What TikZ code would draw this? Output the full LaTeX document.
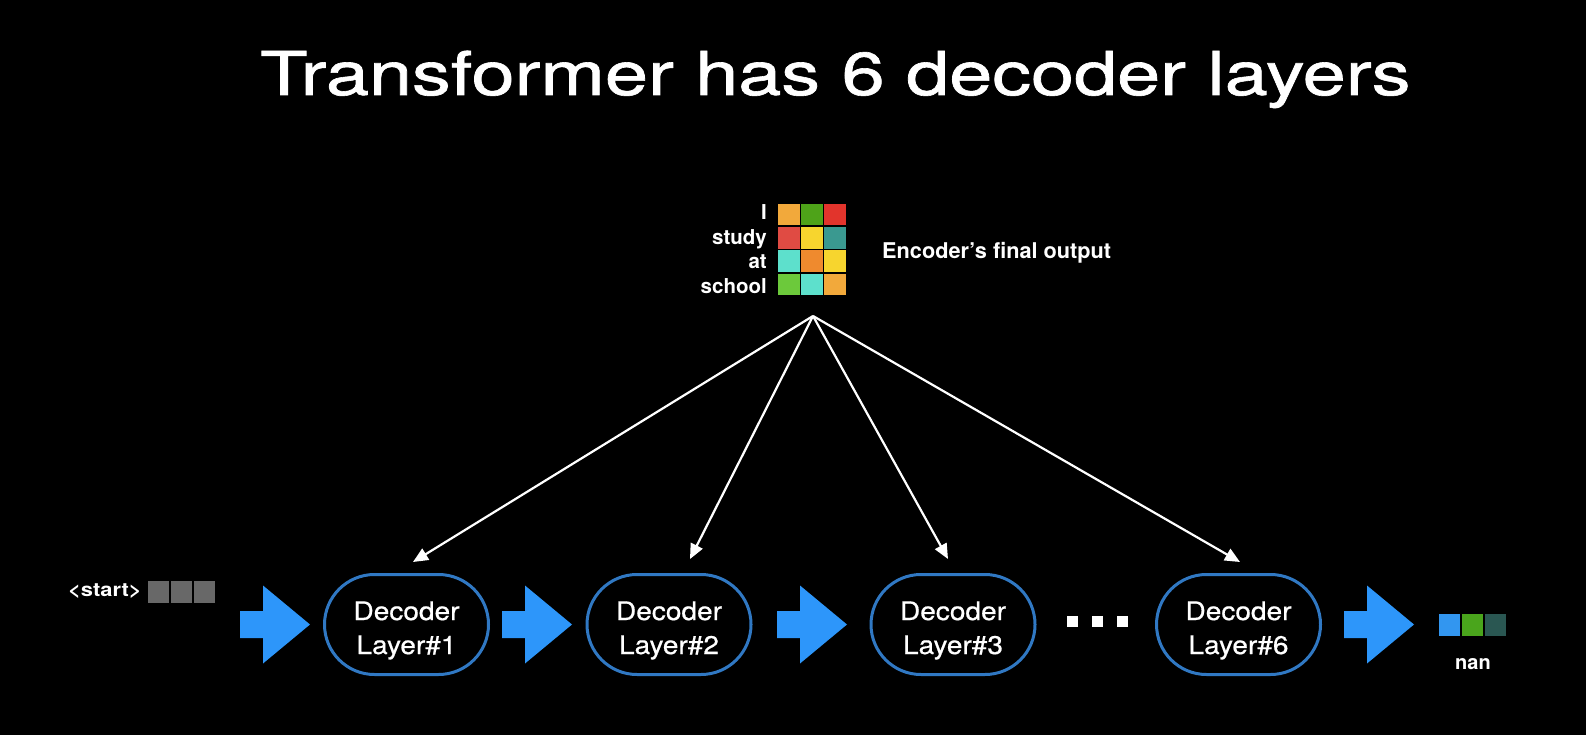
\documentclass[tikz,border=0pt]{standalone}
\usepackage{fontspec}
\setmainfont{TeX Gyre Heros}
\newfontfamily\titlefont{TeX Gyre Heros}[FakeBold=1.0]
\newfontfamily\boxfont{TeX Gyre Heros}[FakeBold=0.6]
\usetikzlibrary{arrows.meta}

\definecolor{arrblue}{RGB}{45,150,250}
\definecolor{decblue}{RGB}{48,120,195}
\definecolor{tokgray}{RGB}{104,104,104}
\definecolor{cOrange}{RGB}{242,169,59}
\definecolor{cGreen}{RGB}{78,163,25}
\definecolor{cRed}{RGB}{226,52,44}
\definecolor{cRed2}{RGB}{224,75,67}
\definecolor{cYellow}{RGB}{247,213,46}
\definecolor{cTeal}{RGB}{58,153,144}
\definecolor{cTurq}{RGB}{93,224,204}
\definecolor{cOrange2}{RGB}{239,138,46}
\definecolor{cLime}{RGB}{108,201,59}
\definecolor{outBlue}{RGB}{50,150,240}
\definecolor{outGreen}{RGB}{74,165,28}
\definecolor{outDark}{RGB}{42,87,82}

% decoder layer box: two centred lines, baseline on the last line
\newcommand\declabel[1]{\raisebox{0pt}[64pt][5pt]{\scalebox{1.1}[1]{\boxfont\fontsize{25.5}{34}\selectfont
  \begin{tabular}[b]{@{}c@{}}Decoder\\Layer\##1\end{tabular}}}}

\tikzset{
  decoder/.style={draw=decblue, line width=3pt, rounded corners=50pt,
    minimum width=164pt, minimum height=100pt, inner sep=0pt, text=white},
  wtxt/.style={text=white, inner sep=0pt},
  feed/.style={draw=white, line width=2.2pt,
    -{Triangle[length=15pt,width=13pt]}},
  blockarrow/.pic={\fill[arrblue] (0,-13.5) -- (23,-13.5) -- (23,-39) -- (70,0)
    -- (23,39) -- (23,13.5) -- (0,13.5) -- cycle;}
}

\begin{document}
\begin{tikzpicture}[x=1pt,y=-1pt]
\fill[black] (0,0) rectangle (1586,735);
\useasboundingbox (0,0) rectangle (1586,735);

% title
\node[wtxt, anchor=base west] (title) at (260,95)
  {\scalebox{1.28}[1]{\titlefont\fontsize{60.5}{72}\selectfont Transformer has 6 decoder layers}};

% encoder output matrix
\foreach \c [count=\i from 0] in {cOrange,cGreen,cRed}
  \fill[\c] (777.75+23.33*\i,203.75) rectangle ++(21.83,21.75);
\foreach \c [count=\i from 0] in {cRed2,cYellow,cTeal}
  \fill[\c] (777.75+23.33*\i,227) rectangle ++(21.83,21.75);
\foreach \c [count=\i from 0] in {cTurq,cOrange2,cYellow}
  \fill[\c] (777.75+23.33*\i,250.25) rectangle ++(21.83,21.75);
\foreach \c [count=\i from 0] in {cLime,cTurq,cOrange}
  \fill[\c] (777.75+23.33*\i,273.5) rectangle ++(21.83,21.75);

\node[wtxt, anchor=base east, font=\bfseries\fontsize{20.5}{24}\selectfont] (wI) at (767,220) {I};
\node[wtxt, anchor=base east, font=\bfseries\fontsize{20.5}{24}\selectfont] (wstudy) at (767,244) {study};
\node[wtxt, anchor=base east, font=\bfseries\fontsize{20.5}{24}\selectfont] (wat) at (767,268) {at};
\node[wtxt, anchor=base east, font=\bfseries\fontsize{20.5}{24}\selectfont] (wschool) at (767,293) {school};
\node[wtxt, anchor=base west, font=\bfseries\fontsize{21.7}{26}\selectfont] (enclabel) at (882,258.3) {Encoder's final output};

% decoder layers
\node[decoder] (d1) at (406.5,624.5) {\declabel{1}};
\node[decoder] (d2) at (669,624.5) {\declabel{2}};
\node[decoder] (d3) at (953,624.5) {\declabel{3}};
\node[decoder] (d6) at (1238.5,624.5) {\declabel{6}};

% encoder output fed into every layer
\coordinate (src) at (813,316);
\coordinate (t1) at (413,562);
\coordinate (t2) at (690,559);
\coordinate (t3) at (948,559);
\coordinate (t4) at (1240,562);
\foreach \t in {t1,t2,t3,t4} \draw[feed] (src) -- (\t);

% data flow arrows
\pic (a1) at (240,624.5) {blockarrow};
\pic (a2) at (502,624.5) {blockarrow};
\pic (a3) at (777,624.5) {blockarrow};
\pic (a4) at (1344,624.5) {blockarrow};

% ellipsis between layer 3 and layer 6
\foreach \x in {1067,1092,1117}
  \fill[white] (\x,616) rectangle ++(10.5,11);

% start token
\node[wtxt, anchor=base west] (start) at (68,596)
  {\scalebox{1.15}[1]{\bfseries\fontsize{19}{22}\selectfont <start>}};
\foreach \x in {147,170,193}
  \fill[tokgray] (\x+0.75,581) rectangle ++(21.5,22);

% output token
\fill[outBlue] (1438.75,614) rectangle ++(21.5,22);
\fill[outGreen] (1461.75,614) rectangle ++(21.5,22);
\fill[outDark] (1484.75,614) rectangle ++(21.5,22);
\node[wtxt, anchor=base, font=\bfseries\fontsize{20}{24}\selectfont] (nan) at (1473,669) {nan};
\end{tikzpicture}
\end{document}
